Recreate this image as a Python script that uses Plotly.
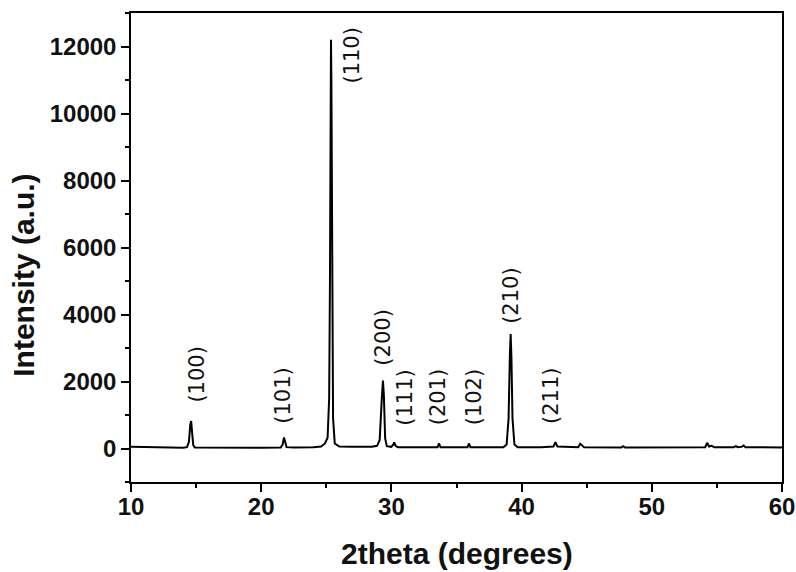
import plotly.graph_objects as go

# XRD pattern: 2theta (degrees) and intensity (a.u.)
two_theta = [
    10.0, 10.5, 11.0, 11.5, 11.8, 11.9, 12.0, 12.3, 13.0, 14.0,
    14.3, 14.45, 14.55, 14.62, 14.7, 14.78, 14.9, 16.0, 18.0, 20.0,
    21.5, 21.65, 21.75, 21.85, 21.95, 22.5, 24.0, 24.6, 24.9, 25.1,
    25.22, 25.28, 25.33, 25.36, 25.39, 25.44, 25.52, 25.65, 26.0, 27.0,
    28.0, 28.5, 28.9, 29.1, 29.25, 29.35, 29.42, 29.52, 29.65, 30.0,
    30.15, 30.22, 30.32, 30.5, 32.0, 33.55, 33.65, 33.78, 35.85, 35.95,
    36.07, 38.6, 38.85, 39.0, 39.1, 39.16, 39.22, 39.3, 39.45, 39.7,
    41.5, 42.45, 42.6, 42.75, 44.35, 44.5, 44.65, 44.8, 47.65, 47.8,
    47.95, 51.85, 51.95, 52.05, 54.1, 54.25, 54.4, 54.6, 54.8, 56.3,
    56.45, 56.6, 56.9, 57.05, 57.2, 60.0,
]
intensity = [
    55, 50, 52, 48, 40, 55, 45, 35, 25, 25,
    40, 200, 700, 820, 450, 100, 30, 25, 25, 22,
    30, 120, 330, 180, 40, 30, 35, 60, 150, 320,
    1500, 5000, 11000, 12200, 11000, 4600, 900, 150, 60, 50,
    40, 50, 80, 250, 1400, 2030, 1600, 300, 70, 50,
    120, 180, 80, 40, 35, 40, 150, 40, 40, 150,
    40, 40, 120, 900, 2800, 3420, 2700, 900, 120, 40,
    40, 60, 190, 60, 40, 140, 90, 40, 30, 70,
    30, 30, 50, 30, 40, 170, 60, 80, 40, 40,
    70, 40, 50, 90, 40, 30,
]

# Miller-index labels and where they sit (2theta, intensity)
hkl_labels = ["(100)", "(101)", "(110)", "(200)", "(111)", "(201)", "(102)", "(210)", "(211)"]
label_x = [15.04, 21.7, 27.0, 29.33, 31.07, 33.6, 36.3, 39.17, 42.3]
label_y = [2195, 1585, 11740, 3300, 1525, 1540, 1540, 4550, 1555]

x_ticks = [10, 20, 30, 40, 50, 60]
y_ticks = [0, 2000, 4000, 6000, 8000, 10000, 12000]

fig = go.Figure()
fig.add_trace(go.Scatter(
    x=two_theta, y=intensity, mode="lines",
    line=dict(color="black", width=2), showlegend=False,
))

for txt, lx, ly in zip(hkl_labels, label_x, label_y):
    fig.add_annotation(
        x=lx, y=ly, xref="x", yref="y", text=txt, textangle=-90,
        showarrow=False, font=dict(family="DejaVu Sans", size=21, color="#111"),
    )

title_font = dict(family="Liberation Sans, Arial", size=30, color="#111")
fig.add_annotation(
    x=0.5, y=-0.152, xref="paper", yref="paper", xanchor="center", yanchor="middle",
    text="<b>2theta (degrees)</b>", showarrow=False, font=title_font,
)
fig.add_annotation(
    x=-0.165, y=0.441, xref="paper", yref="paper", xanchor="center", yanchor="middle",
    text="<b>Intensity (a.u.)</b>", textangle=-90, showarrow=False, font=title_font,
)

axis_font = dict(family="Liberation Sans, Arial", size=24, color="#111")

fig.update_layout(
    width=796, height=572,
    margin=dict(l=131, r=14, t=13, b=90),
    paper_bgcolor="white", plot_bgcolor="white",
    font=dict(family="Liberation Sans, Arial", color="#111"),
    xaxis=dict(
        range=[10, 60], tickvals=x_ticks, ticktext=[f"<b>{v}</b>" for v in x_ticks],
        showline=True, linecolor="black", linewidth=1.5, mirror=True,
        ticks="outside", ticklen=8, tickwidth=1.5, tickcolor="black",
        minor=dict(ticks="outside", ticklen=4, tickwidth=1.5, tickcolor="black", dtick=5, tick0=0),
        showgrid=False, zeroline=False, tickfont=axis_font, automargin=False,
        ticklabelstandoff=-6,
    ),
    yaxis=dict(
        range=[-1000, 13000], tickvals=y_ticks, ticktext=[f"<b>{v}</b>" for v in y_ticks],
        showline=True, linecolor="black", linewidth=1.5, mirror=True,
        ticks="outside", ticklen=8, tickwidth=1.5, tickcolor="black",
        minor=dict(ticks="outside", ticklen=4, tickwidth=1.5, tickcolor="black", dtick=1000, tick0=0),
        showgrid=False, zeroline=False, tickfont=axis_font, automargin=False,
    ),
)

fig.write_html("out.html")
